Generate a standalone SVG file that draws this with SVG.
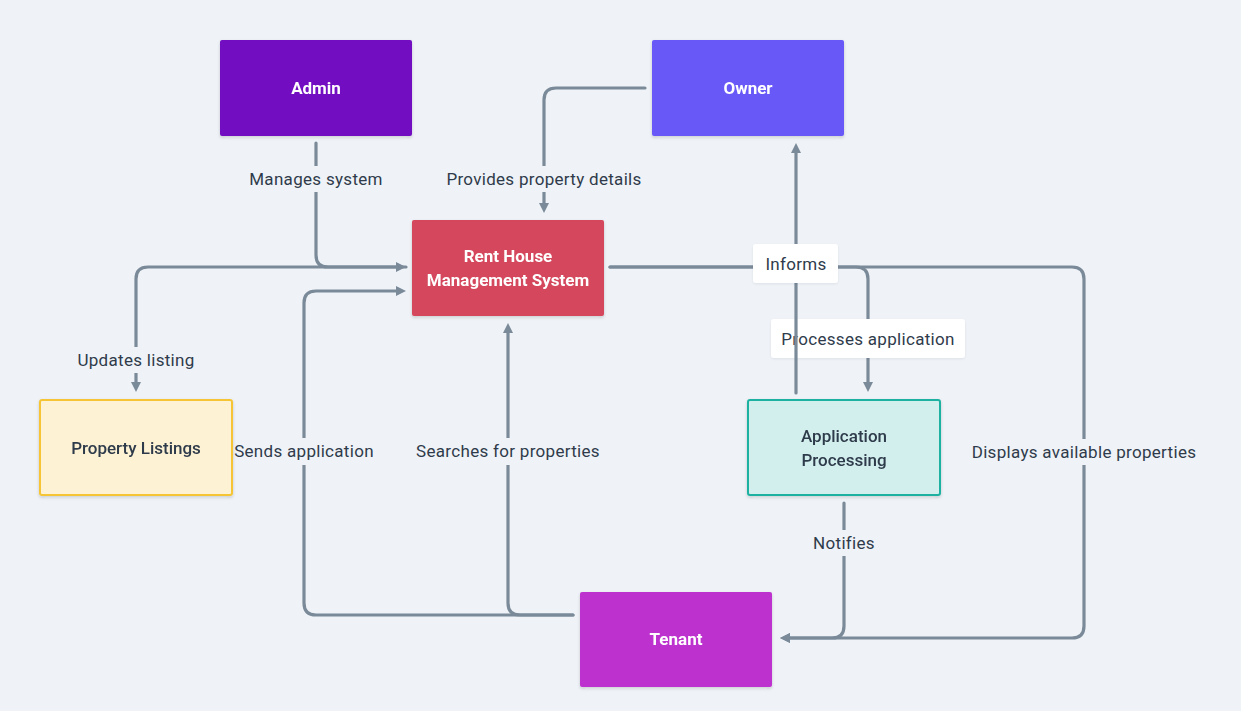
<svg xmlns="http://www.w3.org/2000/svg" width="1241" height="711" viewBox="0 0 1241 711">
<defs>
<style>
.bg{fill:#eff3f7}
.node{filter:url(#sh)}
.nt{font-family:Roboto,"Liberation Sans",sans-serif;font-size:17px;text-anchor:middle;dominant-baseline:central}
.w{fill:#ffffff;font-weight:700}
.d{fill:#2f3b4b;font-weight:500}
.edge{fill:none;stroke:#7b8a99;stroke-width:3.2;stroke-linecap:round;stroke-linejoin:round}
.lb{fill:#eff3f7}
.lbw{fill:#ffffff;filter:url(#sh2)}
.lt{font-family:Roboto,"Liberation Sans",sans-serif;font-size:17px;letter-spacing:0.3px;fill:#2f3b4b;text-anchor:middle;dominant-baseline:central}
</style>
<filter id="sh" x="-10%" y="-10%" width="120%" height="130%"><feDropShadow dx="0" dy="1.5" stdDeviation="1.5" flood-color="#1b2430" flood-opacity="0.18"/></filter>
<filter id="sh2" x="-10%" y="-10%" width="120%" height="130%"><feDropShadow dx="0" dy="1" stdDeviation="1" flood-color="#1b2430" flood-opacity="0.08"/></filter>
<marker id="arr" viewBox="0 0 10 10" refX="1" refY="5" markerWidth="10" markerHeight="10" markerUnits="userSpaceOnUse" orient="auto"><path d="M0,0 L10,5 L0,10 z" fill="#7b8a99"/></marker>
</defs>
<rect class="bg" x="0" y="0" width="1241" height="711"/>

<g id="connectors">
  <g id="e-updates">
    <path class="edge" d="M406,267 H148 Q136,267 136,279 V383" marker-end="url(#arr)"/>
    <rect class="lb" x="74" y="347" width="125" height="26"/>
    <text class="lt" x="136" y="360">Updates listing</text>
  </g>
  <g id="e-manages">
    <path class="edge" d="M316,143 V255 Q316,267 328,267 H397" marker-end="url(#arr)"/>
    <rect class="lb" x="246" y="166" width="140" height="26"/>
    <text class="lt" x="316" y="179">Manages system</text>
  </g>
  <g id="e-provides">
    <path class="edge" d="M645,88 H556 Q544,88 544,100 V204" marker-end="url(#arr)"/>
    <rect class="lb" x="441" y="166" width="206" height="26"/>
    <text class="lt" x="544" y="179">Provides property details</text>
  </g>
  <g id="e-sends">
    <path class="edge" d="M573,615 H316 Q304,615 304,603 V303 Q304,291 316,291 H397" marker-end="url(#arr)"/>
    <rect class="lb" x="234" y="438" width="141" height="27"/>
    <text class="lt" x="304" y="451">Sends application</text>
  </g>
  <g id="e-searches">
    <path class="edge" d="M573,615 H520 Q508,615 508,603 V332" marker-end="url(#arr)"/>
    <rect class="lb" x="410" y="438" width="196" height="27"/>
    <text class="lt" x="508" y="451">Searches for properties</text>
  </g>
  <g id="e-processes">
    <path class="edge" d="M610,267 H856 Q868,267 868,279 V383" marker-end="url(#arr)"/>
    <rect class="lbw" x="771" y="319" width="194" height="39" rx="3"/>
    <text class="lt" x="868" y="339">Processes application</text>
  </g>
  <g id="e-displays">
    <path class="edge" d="M610,267 H1072 Q1084,267 1084,279 V626 Q1084,638 1072,638 H789" marker-end="url(#arr)"/>
    <rect class="lb" x="966" y="439" width="236" height="26"/>
    <text class="lt" x="1084" y="452">Displays available properties</text>
  </g>
  <g id="e-notifies">
    <path class="edge" d="M844,503 V626 Q844,638 832,638 H789" marker-end="url(#arr)"/>
    <rect class="lb" x="809" y="530" width="70" height="26"/>
    <text class="lt" x="844" y="543">Notifies</text>
  </g>
  <g id="e-informs">
    <path class="edge" d="M796,393 V152" marker-end="url(#arr)"/>
    <rect class="lbw" x="753" y="244" width="85" height="39" rx="3"/>
    <text class="lt" x="796" y="264">Informs</text>
  </g>
</g>

<g id="admin" class="node">
  <rect x="220" y="40" width="192" height="96" rx="2" fill="#7210c1"/>
  <text class="nt w" x="316" y="88">Admin</text>
</g>
<g id="owner" class="node">
  <rect x="652" y="40" width="192" height="96" rx="2" fill="#6859f7"/>
  <text class="nt w" x="748" y="88">Owner</text>
</g>
<g id="rhms" class="node">
  <rect x="412" y="220" width="192" height="96" rx="2" fill="#d4475c"/>
  <text class="nt w" x="508" y="256">Rent House</text>
  <text class="nt w" x="508" y="280">Management System</text>
</g>
<g id="listings" class="node">
  <rect x="40" y="400" width="192" height="95" rx="2" fill="#fdf2d4" stroke="#f6c534" stroke-width="2"/>
  <text class="nt d" x="136" y="448">Property Listings</text>
</g>
<g id="application" class="node">
  <rect x="748" y="400" width="192" height="95" rx="2" fill="#d2efed" stroke="#1eb1a0" stroke-width="2"/>
  <text class="nt d" x="844" y="436">Application</text>
  <text class="nt d" x="844" y="460">Processing</text>
</g>
<g id="tenant" class="node">
  <rect x="580" y="592" width="192" height="95" rx="2" fill="#bd33ce"/>
  <text class="nt w" x="676" y="639">Tenant</text>
</g>
</svg>
